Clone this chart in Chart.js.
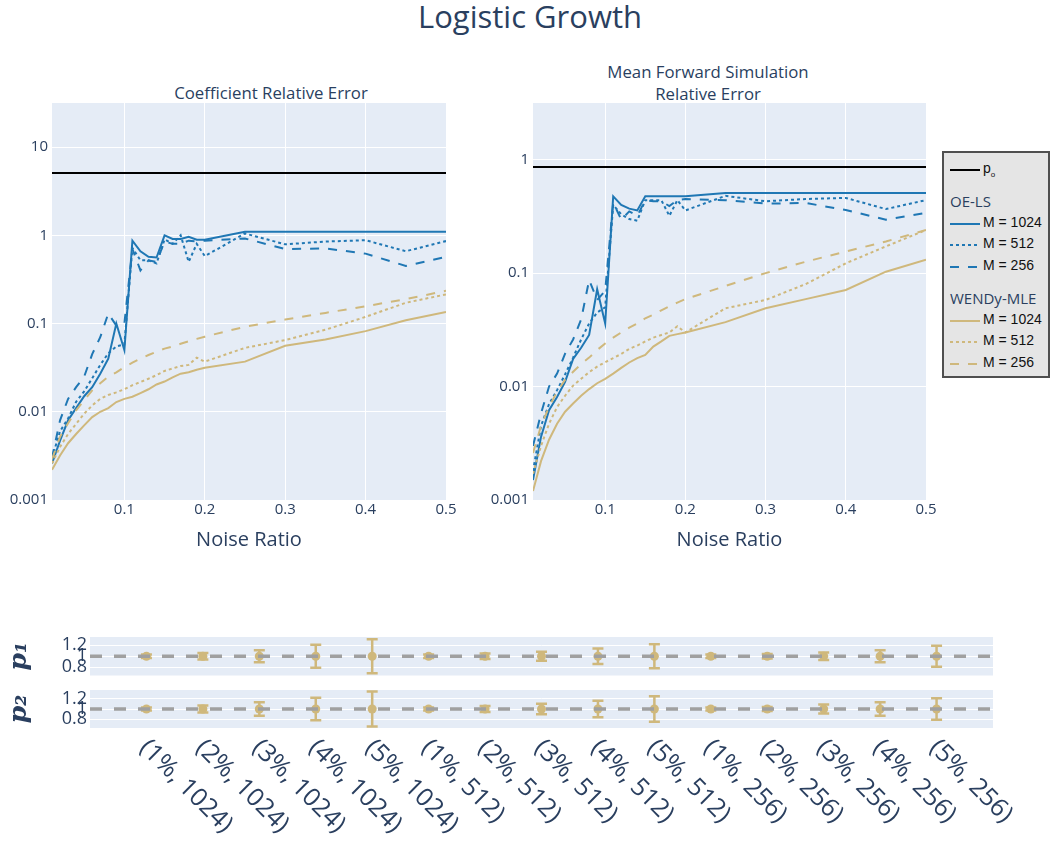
<!DOCTYPE html>
<html>
<head>
<meta charset="utf-8">
<script src="https://cdn.jsdelivr.net/npm/chart.js@4.4.0/dist/chart.umd.min.js"></script>
<style>
  body { margin: 0; width: 1052px; height: 842px; background: #fff; position: relative; overflow: hidden;
         font-family: "Open Sans", sans-serif; color: #2a3f5f; }
  canvas { position: absolute; }
  .txt { position: absolute; text-align: center; white-space: nowrap; }
  #legend { position: absolute; left: 942px; top: 151px; width: 108px; height: 227px; box-sizing: border-box;
            border: 2px solid #4f4f4f; background: #e5e5e5; }
  #legend .row { position: absolute; left: 0; height: 20px; line-height: 20px; width: 104px; }
  #legend svg { position: absolute; left: 6px; top: 0; }
  #legend .lt { position: absolute; left: 39px; font: 14px "Liberation Sans", Arial, sans-serif; color: #111; }
  #legend .grp { position: absolute; left: 6px; font-size: 15px; color: #2a3f5f; }
</style>
</head>
<body>
<div class="txt" style="left:330px; width:400px; top:-3px; font-size:31px; line-height:38px;">Logistic Growth</div>
<div class="txt" style="left:71px; width:400px; top:82px; font-size:16.8px; line-height:22px;">Coefficient Relative Error</div>
<div class="txt" style="left:508px; width:400px; top:61px; font-size:16.8px; line-height:22px;">Mean Forward Simulation<br>Relative Error</div>

<canvas id="coefChart" width="460" height="560" style="left:0; top:0;"></canvas>
<canvas id="fwdChart" width="460" height="560" style="left:480px; top:0;"></canvas>
<canvas id="p1Chart" width="1052" height="60" style="left:0; top:620px;"></canvas>
<canvas id="p2Chart" width="1052" height="162" style="left:0; top:680px;"></canvas>

<div id="legend">
  <div class="row" style="top:7px"><svg width="30" height="20"><line x1="0" y1="10" x2="30" y2="10" stroke="#000" stroke-width="2"/></svg><span class="lt">p<sub style="font-size:8px">o</sub></span></div>
  <div class="row" style="top:38px"><span class="grp">OE-LS</span></div>
  <div class="row" style="top:60.5px"><svg width="30" height="20"><line x1="0" y1="10" x2="30" y2="10" stroke="#1f77b4" stroke-width="2"/></svg><span class="lt">M = 1024</span></div>
  <div class="row" style="top:82px"><svg width="30" height="20"><line x1="0" y1="10" x2="30" y2="10" stroke="#1f77b4" stroke-width="2" stroke-dasharray="3 3"/></svg><span class="lt">M = 512</span></div>
  <div class="row" style="top:104px"><svg width="30" height="20"><line x1="0" y1="10" x2="30" y2="10" stroke="#1f77b4" stroke-width="2" stroke-dasharray="9 9"/></svg><span class="lt">M = 256</span></div>
  <div class="row" style="top:135px"><span class="grp">WENDy-MLE</span></div>
  <div class="row" style="top:157.5px"><svg width="30" height="20"><line x1="0" y1="10" x2="30" y2="10" stroke="#CFB87C" stroke-width="2"/></svg><span class="lt">M = 1024</span></div>
  <div class="row" style="top:179px"><svg width="30" height="20"><line x1="0" y1="10" x2="30" y2="10" stroke="#CFB87C" stroke-width="2" stroke-dasharray="3 3"/></svg><span class="lt">M = 512</span></div>
  <div class="row" style="top:200.5px"><svg width="30" height="20"><line x1="0" y1="10" x2="30" y2="10" stroke="#CFB87C" stroke-width="2" stroke-dasharray="9 9"/></svg><span class="lt">M = 256</span></div>
</div>

<script>
// noise ratios on the x axis of the two top panels
const noiseRatio = [0.01, 0.02, 0.03, 0.04, 0.05, 0.06, 0.07, 0.08, 0.09, 0.10, 0.11, 0.12, 0.13, 0.14, 0.15,
                    0.16, 0.17, 0.18, 0.19, 0.20, 0.25, 0.30, 0.35, 0.40, 0.45, 0.50];
const xTicks = [0.1, 0.2, 0.3, 0.4, 0.5];
const logTicks = [0.001, 0.01, 0.1, 1, 10];

// p0 reference levels
const p0Coef = 5.1;
const p0Fwd = 0.86;

// Coefficient relative error
const oeCoef1024 = [0.0026, 0.0047, 0.008, 0.011, 0.015, 0.019, 0.027, 0.04, 0.1, 0.05, 0.87, 0.66, 0.57, 0.56, 1.0,
                    0.91, 0.91, 0.96, 0.89, 0.89, 1.1, 1.1, 1.1, 1.1, 1.1, 1.1];
const oeCoef512 = [0.003, 0.006, 0.0084, 0.013, 0.017, 0.024, 0.034, 0.046, 0.055, 0.058, 0.72, 0.52, 0.52, 0.48, 0.9,
                   0.8, 1.0, 0.5, 0.8, 0.58, 1.05, 0.79, 0.85, 0.88, 0.66, 0.86];
const oeCoef256 = [0.003, 0.008, 0.014, 0.019, 0.025, 0.045, 0.07, 0.13, 0.095, 0.1, 0.7, 0.4, 0.52, 0.5, 0.85,
                   0.8, 0.8, 0.87, 0.85, 0.87, 0.92, 0.7, 0.71, 0.62, 0.45, 0.57];
const wdCoef1024 = [0.0022, 0.0032, 0.0044, 0.0056, 0.007, 0.0087, 0.01, 0.011, 0.0129, 0.014, 0.0148, 0.0163, 0.018,
                    0.0204, 0.022, 0.0245, 0.027, 0.028, 0.030, 0.0316, 0.037, 0.056, 0.066, 0.082, 0.109, 0.135];
const wdCoef512 = [0.0026, 0.004, 0.0056, 0.0073, 0.0095, 0.0118, 0.014, 0.0155, 0.0166, 0.018, 0.02, 0.0217, 0.0237,
                   0.026, 0.029, 0.031, 0.033, 0.034, 0.041, 0.037, 0.053, 0.065, 0.085, 0.119, 0.172, 0.214];
const wdCoef256 = [0.0029, 0.0052, 0.0074, 0.0104, 0.0135, 0.0175, 0.021, 0.025, 0.028, 0.032, 0.036, 0.04, 0.044,
                   0.048, 0.052, 0.055, 0.059, 0.063, 0.067, 0.071, 0.092, 0.111, 0.132, 0.157, 0.189, 0.235];

// Mean forward simulation relative error
const oeFwd1024 = [0.0015, 0.0036, 0.0062, 0.0081, 0.011, 0.0175, 0.022, 0.0285, 0.072, 0.036, 0.475, 0.40, 0.37,
                   0.357, 0.475, 0.475, 0.475, 0.475, 0.475, 0.475, 0.508, 0.508, 0.508, 0.508, 0.508, 0.508];
const oeFwd512 = [0.0018, 0.0045, 0.007, 0.0093, 0.0128, 0.018, 0.026, 0.036, 0.045, 0.05, 0.4, 0.33, 0.30, 0.29,
                  0.44, 0.44, 0.44, 0.32, 0.44, 0.357, 0.48, 0.43, 0.45, 0.46, 0.367, 0.44];
const oeFwd256 = [0.003, 0.0058, 0.01, 0.013, 0.0195, 0.026, 0.039, 0.087, 0.058, 0.07, 0.42, 0.296, 0.35, 0.32,
                  0.44, 0.43, 0.43, 0.39, 0.44, 0.45, 0.44, 0.41, 0.415, 0.36, 0.296, 0.34];
const wdFwd1024 = [0.0012, 0.0022, 0.0034, 0.0047, 0.006, 0.0071, 0.0083, 0.0095, 0.0107, 0.0117, 0.013, 0.0146,
                   0.0163, 0.0178, 0.019, 0.0225, 0.025, 0.028, 0.029, 0.030, 0.037, 0.049, 0.059, 0.071, 0.103, 0.131];
const wdFwd512 = [0.0017, 0.003, 0.0047, 0.0066, 0.0083, 0.0102, 0.0117, 0.0134, 0.015, 0.0164, 0.0178, 0.0194,
                  0.0215, 0.023, 0.025, 0.027, 0.0285, 0.030, 0.034, 0.030, 0.049, 0.058, 0.08, 0.122, 0.172, 0.24];
const wdFwd256 = [0.0026, 0.0045, 0.0066, 0.009, 0.0115, 0.0135, 0.0158, 0.018, 0.021, 0.024, 0.027, 0.030, 0.033,
                  0.036, 0.04, 0.043, 0.047, 0.051, 0.055, 0.059, 0.077, 0.1, 0.126, 0.155, 0.19, 0.24];

// parameter estimates (noise, M)
const paramLabels = ['(1%, 1024)', '(2%, 1024)', '(3%, 1024)', '(4%, 1024)', '(5%, 1024)',
                     '(1%, 512)', '(2%, 512)', '(3%, 512)', '(4%, 512)', '(5%, 512)',
                     '(1%, 256)', '(2%, 256)', '(3%, 256)', '(4%, 256)', '(5%, 256)'];
const trueParam = 1;
const paramTicks = [0.8, 1, 1.2];
const p1Mean = [1, 1, 1, 1, 1, 1, 1, 1, 1, 1, 1, 1, 1, 1, 1];
const p1Err = [0.03, 0.06, 0.11, 0.21, 0.31, 0.03, 0.05, 0.08, 0.14, 0.22, 0.03, 0.04, 0.07, 0.11, 0.19];
const p2Mean = [1, 1, 1, 1, 1, 1, 1, 1, 1, 1, 1, 1, 1, 1, 1];
const p2Err = [0.03, 0.07, 0.13, 0.22, 0.34, 0.03, 0.06, 0.10, 0.16, 0.25, 0.03, 0.04, 0.09, 0.13, 0.21];

const blue = '#1f77b4';
const gold = '#CFB87C';
const dotted = [3, 3];
const dashed = [9, 9];

Chart.defaults.font.family = '"Open Sans", sans-serif';
Chart.defaults.color = '#2a3f5f';

// plotly-like plot background
Chart.register({
    id: 'plotBg',
    beforeDraw(chart) {
        const { ctx, chartArea: a } = chart;
        ctx.save();
        ctx.fillStyle = '#E5ECF6';
        ctx.fillRect(a.left, a.top, a.width, a.height);
        ctx.restore();
    }
});

const errorBars = {
    id: 'errorBars',
    beforeDatasetsDraw(chart, args, opts) {
        const { ctx, scales: { x, y } } = chart;
        const pts = chart.data.datasets[opts.dataset].data;
        ctx.save();
        ctx.strokeStyle = gold;
        ctx.lineWidth = 2.5;
        pts.forEach((p, i) => {
            const px = x.getPixelForValue(p.x);
            const top = y.getPixelForValue(p.y + opts.errs[i]);
            const bot = y.getPixelForValue(p.y - opts.errs[i]);
            ctx.beginPath();
            ctx.moveTo(px, top); ctx.lineTo(px, bot);
            ctx.moveTo(px - 5.5, top); ctx.lineTo(px + 5.5, top);
            ctx.moveTo(px - 5.5, bot); ctx.lineTo(px + 5.5, bot);
            ctx.stroke();
        });
        ctx.restore();
    }
};

const slantLabels = {
    id: 'slantLabels',
    afterDraw(chart, args, opts) {
        const { ctx, scales: { x }, chartArea } = chart;
        ctx.save();
        ctx.font = opts.size + 'px "Open Sans"';
        ctx.fillStyle = '#2a3f5f';
        ctx.textAlign = 'left';
        ctx.textBaseline = 'middle';
        opts.labels.forEach((t, i) => {
            ctx.save();
            ctx.translate(x.getPixelForValue(i) + opts.dx, chartArea.bottom + opts.dy);
            ctx.rotate(Math.PI / 4);
            ctx.fillText(t, 0, 0);
            ctx.restore();
        });
        ctx.restore();
    }
};

// keep the plot area where it is, labels may hang over the edges
function fixWidth(w) {
    return s => { s.width = w; s.paddingTop = 0; s.paddingBottom = 0; };
}

function series(ys, color, dash, order) {
    return {
        data: noiseRatio.map((x, i) => ({ x, y: ys[i] })),
        borderColor: color, borderWidth: 2, borderDash: dash,
        pointRadius: 0, fill: false, tension: 0, order
    };
}

function errorChart(id, p0, lines, yMax, axisWidth) {
    const first = noiseRatio[0], last = noiseRatio[noiseRatio.length - 1];
    return new Chart(document.getElementById(id), {
        type: 'line',
        data: {
            datasets: [
                { data: [{ x: first, y: p0 }, { x: last, y: p0 }], borderColor: '#000', borderWidth: 2, pointRadius: 0, order: 0 },
                series(lines[0], blue, [], -1),
                series(lines[1], blue, dotted, -2),
                series(lines[2], blue, dashed, -3),
                series(lines[3], gold, [], -4),
                series(lines[4], gold, dotted, -5),
                series(lines[5], gold, dashed, -6)
            ]
        },
        options: {
            animation: false,
            responsive: false,
            layout: { padding: { top: 103, right: 14, left: 0, bottom: 0 } },
            plugins: { legend: { display: false }, tooltip: { enabled: false } },
            scales: {
                x: {
                    type: 'linear', min: 0.01, max: 0.5,
                    afterBuildTicks: s => { s.ticks = xTicks.map(v => ({ value: v })); },
                    afterFit: s => { s.height = 60; s.paddingLeft = 0; s.paddingRight = 0; },
                    grid: { color: '#ffffff', drawTicks: false },
                    border: { display: false },
                    ticks: { padding: 1, font: { size: 15 }, callback: v => String(v) },
                    title: { display: true, text: 'Noise Ratio', font: { size: 20 }, padding: { top: 0, bottom: 8 } }
                },
                y: {
                    type: 'logarithmic', min: 0.001, max: yMax,
                    afterBuildTicks: s => { s.ticks = logTicks.filter(v => v <= yMax).map(v => ({ value: v })); },
                    afterFit: fixWidth(axisWidth),
                    grid: { color: '#ffffff', drawTicks: false },
                    border: { display: false },
                    ticks: { padding: 4, font: { size: 15 }, callback: v => String(v) }
                }
            }
        }
    });
}

errorChart('coefChart', p0Coef, [oeCoef1024, oeCoef512, oeCoef256, wdCoef1024, wdCoef512, wdCoef256], 31.6, 52);
errorChart('fwdChart', p0Fwd, [oeFwd1024, oeFwd512, oeFwd256, wdFwd1024, wdFwd512, wdFwd256], 3.16, 53);

function paramChart(id, means, errs, yMin, yMax, title, padding, xHeight, extra) {
    const plugins = [errorBars];
    if (extra) plugins.push(slantLabels);
    return new Chart(document.getElementById(id), {
        type: 'line',
        data: {
            datasets: [
                { data: [{ x: -1, y: trueParam }, { x: paramLabels.length, y: trueParam }],
                  borderColor: '#a0a0a0', borderWidth: 3.5, borderDash: [12, 12], pointRadius: 0, order: 0 },
                { data: means.map((m, i) => ({ x: i, y: m })), showLine: false, pointRadius: 4.5,
                  pointBackgroundColor: gold, pointBorderWidth: 0, borderColor: gold, order: 1 }
            ]
        },
        plugins,
        options: {
            animation: false,
            responsive: false,
            layout: { padding },
            plugins: {
                legend: { display: false }, tooltip: { enabled: false },
                errorBars: { dataset: 1, errs },
                slantLabels: extra || {}
            },
            scales: {
                x: {
                    type: 'linear', min: -1, max: paramLabels.length,
                    display: xHeight > 0,
                    afterFit: s => { s.height = xHeight; s.paddingLeft = 0; s.paddingRight = 0; },
                    grid: { display: false }, border: { display: false },
                    ticks: { display: false }
                },
                y: {
                    min: yMin, max: yMax,
                    afterBuildTicks: s => { s.ticks = paramTicks.map(v => ({ value: v })); },
                    afterFit: fixWidth(90),
                    grid: { color: '#ffffff', drawTicks: false },
                    border: { display: false },
                    ticks: { padding: 3, font: { size: 18 }, autoSkip: false, callback: v => String(v) },
                    title: { display: true, text: title, color: '#2a3f5f',
                             font: { family: '"DejaVu Serif", serif', size: 25, style: 'italic', weight: 'bold' },
                             padding: { top: 4, bottom: 0 } }
                }
            }
        }
    });
}

paramChart('p1Chart', p1Mean, p1Err, 0.65, 1.35, 'p₁', { top: 17, right: 59, left: 0, bottom: 4 }, 0, null);
paramChart('p2Chart', p2Mean, p2Err, 0.63, 1.37, 'p₂', { top: 10, right: 59, left: 0, bottom: 0 }, 114,
           { labels: paramLabels, size: 25, dx: -3, dy: 16 });
</script>
</body>
</html>
